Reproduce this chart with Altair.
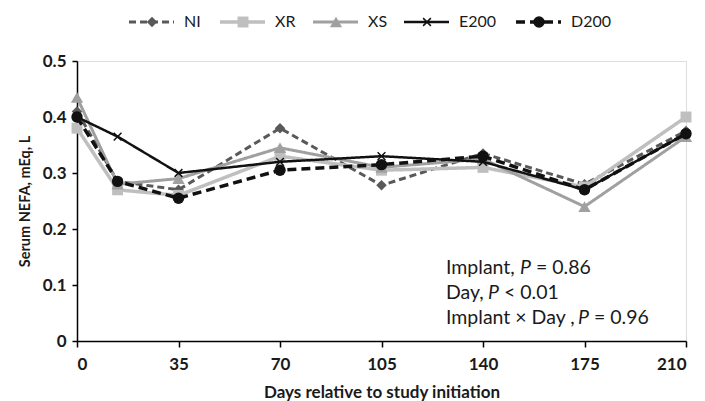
import altair as alt
import pandas as pd

# ---- data ----
days = [0, 14, 35, 70, 105, 140, 175, 210]
series_names = ["NI", "XR", "XS", "E200", "D200"]
ni = [0.410, 0.285, 0.270, 0.380, 0.278, 0.335, 0.280, 0.375]
xr = [0.380, 0.270, 0.260, 0.330, 0.305, 0.310, 0.275, 0.400]
xs = [0.435, 0.280, 0.290, 0.345, 0.310, 0.325, 0.240, 0.365]
e200 = [0.400, 0.365, 0.300, 0.320, 0.330, 0.320, 0.270, 0.370]
d200 = [0.400, 0.285, 0.255, 0.305, 0.315, 0.330, 0.270, 0.370]
values = {"NI": ni, "XR": xr, "XS": xs, "E200": e200, "D200": d200}
x_ticks = [0, 35, 70, 105, 140, 175, 210]
y_ticks = [0, 0.1, 0.2, 0.3, 0.4, 0.5]
stats_lines = [("Implant, ", "P", " = 0.86"), ("Day, ", "P", " < 0.01"), ("Implant \u00d7 Day , ", "P", " = 0.96")]

# ---- styles ----
FONT = "Lato"
styles = {
    "NI":   dict(color="#595959", dash=[7, 4], width=3, shape="diamond", size=110, filled=True),
    "XR":   dict(color="#bfbfbf", dash=[1, 0], width=3.5, shape="square", size=120, filled=True),
    "XS":   dict(color="#a0a0a0", dash=[1, 0], width=3, shape="triangle-up", size=150, filled=True),
    "E200": dict(color="#111111", dash=[1, 0], width=2.5, shape="M-1,-1L1,1M-1,1L1,-1", size=60, filled=False),
    "D200": dict(color="#111111", dash=[9, 5], width=3.5, shape="circle", size=130, filled=True),
}

W, H = 609, 280
xs_scale = alt.Scale(domain=[0, 210], nice=False, zero=False)
ys_scale = alt.Scale(domain=[0, 0.5], nice=False)

layers = []
first = True
for name in series_names:
    st = styles[name]
    df = pd.DataFrame({"day": days, "nefa": values[name], "series": name})
    base = alt.Chart(df)
    if first:
        xenc = alt.X("day:Q", scale=xs_scale, axis=alt.Axis(
            values=x_ticks, title="Days relative to study initiation", grid=False,
            domainColor="#000", domainWidth=1.5, tickColor="#000", tickWidth=1.5, tickSize=6,
            labelFont=FONT, labelFontSize=17, labelFontWeight="bold", labelColor="#1a1a1a", labelPadding=9,
            titleFont=FONT, titleFontSize=17, titleFontWeight="bold", titleColor="#1a1a1a", titlePadding=12))
        yenc = alt.Y("nefa:Q", scale=ys_scale, axis=alt.Axis(
            values=y_ticks, title="Serum NEFA, mEq, L", grid=False,
            labelExpr="datum.value == 0 ? '0' : format(datum.value, '.1f')",
            domainColor="#000", domainWidth=1.5, tickColor="#000", tickWidth=1.5, tickSize=5,
            labelFont=FONT, labelFontSize=17, labelFontWeight="bold", labelColor="#1a1a1a", labelPadding=6,
            titleFont=FONT, titleFontSize=14.5, titleFontWeight="bold", titleColor="#1a1a1a", titlePadding=10))
        first = False
    else:
        xenc = alt.X("day:Q", scale=xs_scale)
        yenc = alt.Y("nefa:Q", scale=ys_scale)
    line = base.mark_line(color=st["color"], strokeWidth=st["width"], strokeDash=st["dash"]).encode(x=xenc, y=yenc)
    if st["filled"]:
        pt = base.mark_point(shape=st["shape"], size=st["size"], filled=True, color=st["color"], opacity=1).encode(x="day:Q", y="nefa:Q")
    else:
        pt = base.mark_point(shape=st["shape"], size=st["size"], filled=False, stroke=st["color"], strokeWidth=1.5, opacity=1).encode(x="day:Q", y="nefa:Q")
    layers += [line, pt]

# ---- manual legend (pixel layout, relative to plot origin) ----
leg_start = [52, 143, 236, 327, 439]
leg_y = -39
for name, sx in zip(series_names, leg_start):
    st = styles[name]
    ldf = pd.DataFrame({"x0": [sx], "x1": [sx + 45], "xm": [sx + 23], "xt": [sx + 55], "y": [leg_y], "label": [name]})
    lb = alt.Chart(ldf)
    layers.append(lb.mark_rule(color=st["color"], strokeWidth=st["width"], strokeDash=st["dash"]).encode(
        x=alt.X("x0:Q", scale=None), x2="x1:Q", y=alt.Y("y:Q", scale=None)))
    if st["filled"]:
        layers.append(lb.mark_point(shape=st["shape"], size=st["size"], filled=True, color=st["color"], opacity=1).encode(
            x=alt.X("xm:Q", scale=None), y=alt.Y("y:Q", scale=None)))
    else:
        layers.append(lb.mark_point(shape=st["shape"], size=st["size"], filled=False, stroke=st["color"], strokeWidth=1.5, opacity=1).encode(
            x=alt.X("xm:Q", scale=None), y=alt.Y("y:Q", scale=None)))
    layers.append(lb.mark_text(font=FONT, fontSize=16, align="left", baseline="middle", color="#1a1a1a").encode(
        x=alt.X("xt:Q", scale=None), y=alt.Y("y:Q", scale=None), text="label:N"))

# ---- statistics annotation ----
ann_x = 369
ann_y0 = 207
ann_dy = 25
fs = 19.5
# approximate pixel widths of the leading text pieces
lead_w = [74, 42, 132]
p_w = 16
for i, (a, p, b) in enumerate(stats_lines):
    yy = ann_y0 + i * ann_dy
    adf = pd.DataFrame({"a": [a], "p": [p], "b": [b]})
    ab = alt.Chart(adf)
    layers.append(ab.mark_text(font=FONT, fontSize=fs, align="left", baseline="middle", color="#1a1a1a").encode(
        x=alt.value(ann_x), y=alt.value(yy), text="a:N"))
    layers.append(ab.mark_text(font=FONT, fontSize=fs, fontStyle="italic", align="left", baseline="middle",
                               color="#1a1a1a", dx=lead_w[i]).encode(
        x=alt.value(ann_x), y=alt.value(yy), text="p:N"))
    layers.append(ab.mark_text(font=FONT, fontSize=fs, align="left", baseline="middle", color="#1a1a1a",
                               dx=lead_w[i] + p_w).encode(
        x=alt.value(ann_x), y=alt.value(yy), text="b:N"))

chart = alt.layer(*layers).properties(
    width=W, height=H,
    autosize=alt.AutoSizeParams(type="none"),
    padding={"left": 69, "top": 53, "right": 11, "bottom": 60},
).configure_view(stroke=None).configure(background="white")

chart.save("out.html", embed_options={"renderer": "svg", "actions": False})
